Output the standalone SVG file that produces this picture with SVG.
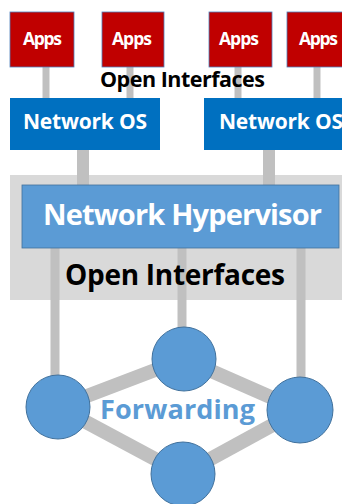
<svg xmlns="http://www.w3.org/2000/svg" width="342" height="504" viewBox="0 0 342 504">
<style>
.apps{fill:#c00000;stroke:#4f81bd;stroke-width:0.8}
.nos{fill:#0070c0}
.hv{fill:#5b9bd5;stroke:#41719c;stroke-width:0.8}
.node{fill:#5b9bd5;stroke:#41719c;stroke-width:1}
.bar{stroke:#c0c0c0;fill:none}
.wt{fill:#ffffff;font-family:"Open Sans","Noto Sans",sans-serif;font-weight:bold;text-anchor:middle}
.bk{fill:#000000;font-family:"Open Sans","Noto Sans",sans-serif;font-weight:bold;text-anchor:middle}
</style>
<rect width="342" height="504" fill="#ffffff"/>
<rect id="panel" x="10" y="175" width="332" height="125" fill="#d9d9d9"/>
<g id="connectors">
<line class="bar" x1="46" y1="67" x2="46" y2="98" stroke-width="7"/>
<line class="bar" x1="130" y1="67" x2="130" y2="98" stroke-width="7"/>
<line class="bar" x1="238" y1="67" x2="238" y2="98" stroke-width="7"/>
<line class="bar" x1="317" y1="67" x2="317" y2="98" stroke-width="7"/>
<line class="bar" x1="83" y1="150" x2="83" y2="185" stroke-width="12"/>
<line class="bar" x1="269" y1="150" x2="269" y2="185" stroke-width="12"/>
<line class="bar" x1="55" y1="248" x2="55" y2="378" stroke-width="9"/>
<line class="bar" x1="182" y1="248" x2="182" y2="330" stroke-width="9"/>
<line class="bar" x1="301" y1="248" x2="301" y2="380" stroke-width="9"/>
<line class="bar" x1="58" y1="407" x2="184" y2="359" stroke-width="14"/>
<line class="bar" x1="184" y1="359" x2="300" y2="410" stroke-width="14"/>
<line class="bar" x1="58" y1="407" x2="183" y2="474" stroke-width="14"/>
<line class="bar" x1="183" y1="474" x2="300" y2="410" stroke-width="14"/>
</g>
<g id="apps1"><rect class="apps" x="10" y="12" width="64" height="55"/><text class="wt" x="42.5" y="45" font-size="17.5" textLength="39">Apps</text></g>
<g id="apps2"><rect class="apps" x="102" y="12" width="62" height="55"/><text class="wt" x="132" y="45" font-size="17.5" textLength="40">Apps</text></g>
<g id="apps3"><rect class="apps" x="209" y="12" width="63" height="55"/><text class="wt" x="239" y="45" font-size="17.5" textLength="40">Apps</text></g>
<g id="apps4"><rect class="apps" x="287" y="12" width="60" height="55"/><text class="wt" x="318.5" y="45" font-size="17.5" textLength="39">Apps</text></g>
<g id="oi-top"><text class="bk" x="182.5" y="87" font-size="21.5" textLength="165">Open Interfaces</text></g>
<g id="nos1"><rect class="nos" x="10" y="98" width="150" height="52"/><text class="wt" x="85" y="129" font-size="21" textLength="124">Network OS</text></g>
<g id="nos2"><rect class="nos" x="204" y="98" width="145" height="52"/><text class="wt" x="281" y="129" font-size="21" textLength="124">Network OS</text></g>
<g id="hypervisor"><rect class="hv" x="22" y="185" width="317" height="63"/><text class="wt" x="182.5" y="225" font-size="29" textLength="279">Network Hypervisor</text></g>
<g id="oi-bottom"><text class="bk" x="175" y="285" font-size="28" textLength="220">Open Interfaces</text></g>
<g id="sw-top"><circle class="node" cx="184" cy="359" r="32"/></g>
<g id="sw-left"><circle class="node" cx="58" cy="407" r="32"/></g>
<g id="sw-right"><circle class="node" cx="300" cy="410" r="33"/></g>
<g id="sw-bottom"><circle class="node" cx="183" cy="474" r="32"/></g>
<g id="forwarding"><text x="177.5" y="419" font-size="27" fill="#5b9bd5" font-family="'Open Sans','Noto Sans',sans-serif" font-weight="bold" text-anchor="middle" textLength="155">Forwarding</text></g>
</svg>
